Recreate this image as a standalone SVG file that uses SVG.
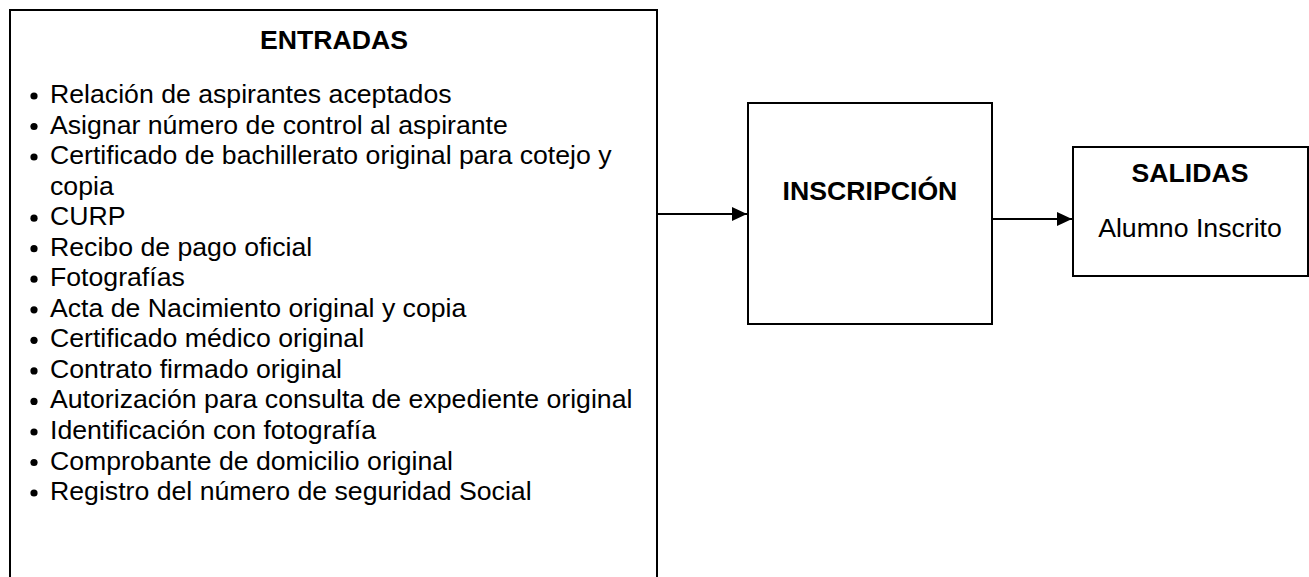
<svg xmlns="http://www.w3.org/2000/svg" width="1309" height="577" viewBox="0 0 1309 577">
<style>
.box{fill:#fff;stroke:#000;stroke-width:2}
.t{font-family:"Liberation Sans",Arial,sans-serif;font-size:26.67px;fill:#000}
.b{font-weight:bold}
.c{text-anchor:middle}
.conn{stroke:#000;stroke-width:2;fill:none}
.blt{fill:#000}
</style>
<defs>
<marker id="ah" markerWidth="16" markerHeight="14" refX="15" refY="7" orient="auto" markerUnits="userSpaceOnUse">
<path d="M0,0 L15,7 L0,14 Z" fill="#000"/>
</marker>
</defs>
<rect width="1309" height="577" fill="#fff"/>
<g id="entradas">
<path class="box" d="M10,577 V10 H657 V577"/>
<text class="t b c" x="334" y="49">ENTRADAS</text>
<g class="blt">
<circle cx="34" cy="96" r="3.6"/>
<circle cx="34" cy="126.5" r="3.6"/>
<circle cx="34" cy="157" r="3.6"/>
<circle cx="34" cy="218.2" r="3.6"/>
<circle cx="34" cy="248.7" r="3.6"/>
<circle cx="34" cy="279.2" r="3.6"/>
<circle cx="34" cy="309.8" r="3.6"/>
<circle cx="34" cy="340.3" r="3.6"/>
<circle cx="34" cy="370.9" r="3.6"/>
<circle cx="34" cy="401.4" r="3.6"/>
<circle cx="34" cy="432" r="3.6"/>
<circle cx="34" cy="462.5" r="3.6"/>
<circle cx="34" cy="493" r="3.6"/>
</g>
<text class="t" x="50" y="103">Relación de aspirantes aceptados</text>
<text class="t" x="50" y="133.5">Asignar número de control al aspirante</text>
<text class="t" x="50" y="164">Certificado de bachillerato original para cotejo y</text>
<text class="t" x="50" y="194.6">copia</text>
<text class="t" x="50" y="225.2">CURP</text>
<text class="t" x="50" y="255.7">Recibo de pago oficial</text>
<text class="t" x="50" y="286.2">Fotografías</text>
<text class="t" x="50" y="316.8">Acta de Nacimiento original y copia</text>
<text class="t" x="50" y="347.3">Certificado médico original</text>
<text class="t" x="50" y="377.9">Contrato firmado original</text>
<text class="t" x="50" y="408.4">Autorización para consulta de expediente original</text>
<text class="t" x="50" y="439">Identificación con fotografía</text>
<text class="t" x="50" y="469.5">Comprobante de domicilio original</text>
<text class="t" x="50" y="500">Registro del número de seguridad Social</text>
</g>
<g id="inscripcion">
<rect class="box" x="748" y="103" width="244" height="221"/>
<text class="t b c" x="870" y="200">INSCRIPCIÓN</text>
</g>
<g id="salidas">
<rect class="box" x="1073" y="147" width="235" height="129"/>
<text class="t b c" x="1190" y="182">SALIDAS</text>
<text class="t c" x="1190" y="237">Alumno Inscrito</text>
</g>
<g id="connectors">
<line class="conn" x1="658" y1="214" x2="747" y2="214" marker-end="url(#ah)"/>
<line class="conn" x1="993" y1="219" x2="1072" y2="219" marker-end="url(#ah)"/>
</g>
</svg>
